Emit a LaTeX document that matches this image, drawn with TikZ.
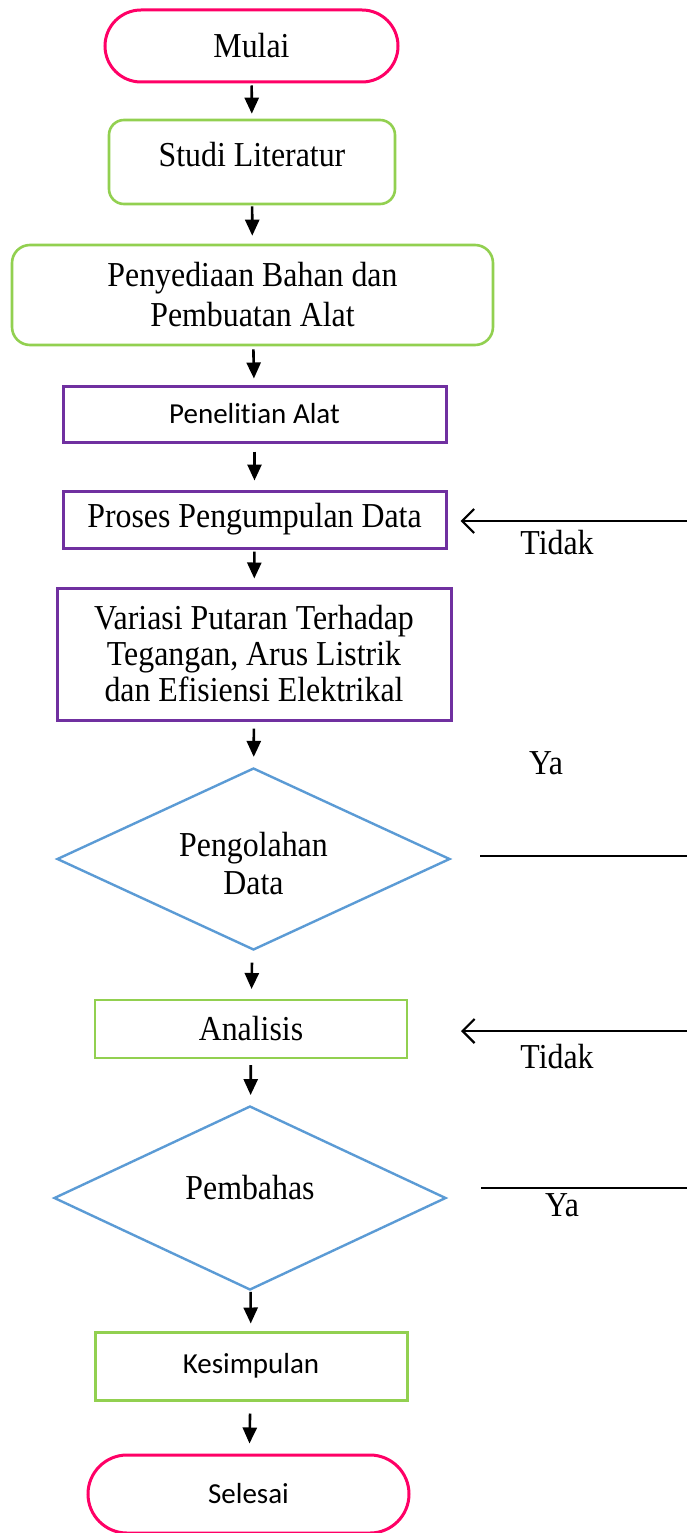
\documentclass[tikz,border=0pt]{standalone}
\usepackage{fontspec}
\setmainfont{Liberation Serif}[FakeStretch=0.91]
\newfontfamily\calfont{Carlito}[Ligatures=NoCommon]
\usetikzlibrary{arrows.meta,shapes.geometric}
\definecolor{pinkc}{HTML}{FF0066}
\definecolor{greenc}{HTML}{92D050}
\definecolor{purplec}{HTML}{7030A0}
\definecolor{bluec}{HTML}{5B9BD5}
\begin{document}
\begin{tikzpicture}[x=1pt,y=-1pt,
  every node/.style={inner sep=0pt, align=center},
  serif/.style={font=\fontsize{35}{38}\selectfont},
  sans/.style={font=\calfont\fontsize{29}{34}\selectfont},
  term/.style={draw=pinkc, line width=3pt, rounded corners=36pt, serif},
  gbox/.style={draw=greenc, line width=2.6pt, rounded corners=15pt, serif},
  pbox/.style={draw=purplec, line width=3pt},
  dec/.style={draw=bluec, line width=2.4pt, diamond, serif},
  flow/.style={-{Triangle[length=16pt,width=14pt]}, line width=2.6pt, shorten <=4pt, shorten >=8pt},
  back/.style={{Straight Barb[length=12pt,width=24pt]}-, line width=2.2pt},
  thin/.style={line width=1.2pt},
  lbl/.style={serif}
]
\useasboundingbox (0,0) rectangle (687,1533);
\fill[white] (0,0) rectangle (687,1533);

\node[term, minimum width=293pt, minimum height=72pt] (mulai) at (251.5,46) {Mulai};
\node[gbox, minimum width=286pt, minimum height=84pt, text depth=16pt] (studi) at (252,162) {Studi Literatur};
\node[gbox, rounded corners=18pt, minimum width=481pt, minimum height=100pt, font=\fontsize{35}{40}\selectfont] (peny) at (252.5,295) {Penyediaan Bahan dan\\Pembuatan Alat};
\node[pbox, sans, minimum width=383pt, minimum height=56pt] (penel) at (254.5,414) {Penelitian Alat};
\node[pbox, serif, minimum width=383pt, minimum height=57pt] (proses) at (254.5,519.5) {Proses Pengumpulan Data};
\node[pbox, font=\fontsize{35}{36}\selectfont, minimum width=394pt, minimum height=132pt] (variasi) at (254,654) {Variasi Putaran Terhadap\\Tegangan, Arus Listrik\\dan Efisiensi Elektrikal};
\node[dec, minimum width=393pt, minimum height=182pt, aspect=2.16] (dia1) at (253.5,859) {};
\node[font=\fontsize{35}{38}\selectfont] (dia1t) at (253.5,864) {Pengolahan\\Data};
\node[draw=greenc, line width=2pt, serif, minimum width=312pt, minimum height=58pt] (analisis) at (251,1029) {Analisis};
\node[dec, minimum width=392pt, minimum height=184pt, aspect=2.13] (dia2) at (250,1198) {};
\node[serif] (dia2t) at (250,1188) {Pembahas};
\node[draw=greenc, line width=3pt, sans, minimum width=312pt, minimum height=68pt] (kes) at (251,1366) {Kesimpulan};
\node[draw=pinkc, line width=3pt, rounded corners=39pt, sans, minimum width=321pt, minimum height=78pt] (selesai) at (248.5,1494) {Selesai};

\draw[flow, shorten <=2pt, shorten >=5pt] (mulai) -- (studi);
\draw[flow, shorten <=1pt, shorten >=8pt] (studi) -- (peny);
\draw[flow, shorten <=3pt, shorten >=6pt] (peny) -- (penel);
\draw[flow, shorten <=8pt, shorten >=9pt] (penel) -- (proses);
\draw[flow, shorten <=2pt, shorten >=8pt] (proses) -- (variasi);
\draw[flow, shorten <=7pt, shorten >=10pt] (variasi) -- (dia1);
\draw[flow, shorten <=12pt, shorten >=10pt] (dia1) -- (analisis);
\draw[flow, shorten <=6pt, shorten >=10pt] (analisis) -- (dia2);
\draw[flow, shorten <=1pt, shorten >=7pt] (dia2) -- (kes);
\draw[flow, shorten <=12pt, shorten >=10pt] (kes) -- (selesai);

\coordinate (r1) at (687,521);
\coordinate (r2) at (687,1031);
\coordinate (y1a) at (480,856);
\coordinate (y1b) at (687,856);
\coordinate (y2a) at (481,1188);
\coordinate (y2b) at (687,1188);

\draw[back, shorten <=13pt] (proses.east |- r1) -- (r1);
\draw[back, shorten <=53pt] (analisis.east |- r2) -- (r2);
\draw[thin] (y1a) -- (y1b);
\draw[thin] (y2a) -- (y2b);

\node[lbl] (t1) at (557,543) {Tidak};
\node[lbl] (ya1) at (546,763) {Ya};
\node[lbl] (t2) at (557,1057) {Tidak};
\node[lbl] (ya2) at (562,1205) {Ya};
\end{tikzpicture}
\end{document}
